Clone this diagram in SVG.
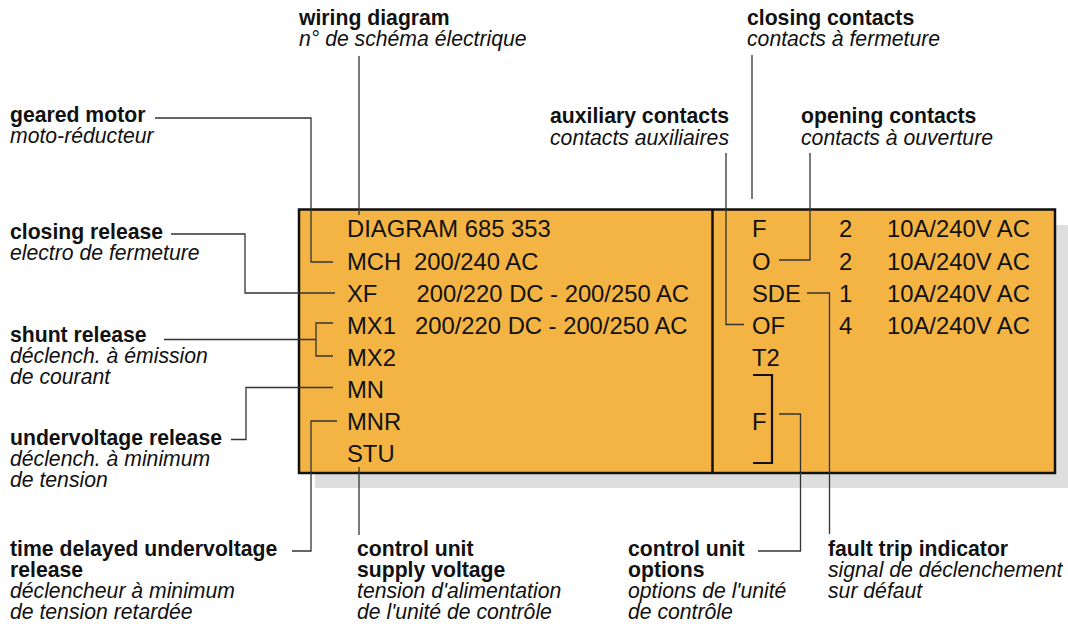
<svg xmlns="http://www.w3.org/2000/svg" width="1068" height="624" viewBox="0 0 1068 624">
<style>
text{font-family:"Liberation Sans",Arial,sans-serif;fill:#111;}
.b{font-size:21.2px;font-weight:bold;}
.i{font-size:21.2px;font-style:italic;}
.t{font-size:23.8px;}
.ln{fill:none;stroke:#333;stroke-width:1.3;}
.br{fill:none;stroke:#111;stroke-width:2.2;}
</style>
<rect width="1068" height="624" fill="#fff"/>
<g id="panel">
<rect x="315" y="225" width="760" height="263" fill="#dedede"/>
<rect x="299" y="209.5" width="756" height="263.5" fill="#F3B443" stroke="#111" stroke-width="2.5"/>
<line x1="712.5" y1="209.5" x2="712.5" y2="473" stroke="#111" stroke-width="2.5"/>
</g>
<g id="box-left">
<text class="t" x="347" y="237">DIAGRAM 685 353</text>
<text class="t" x="347" y="270">MCH</text><text class="t" x="414" y="270">200/240 AC</text>
<text class="t" x="347" y="302">XF</text><text class="t" x="416.5" y="302">200/220 DC - 200/250 AC</text>
<text class="t" x="347" y="334">MX1</text><text class="t" x="415" y="334">200/220 DC - 200/250 AC</text>
<text class="t" x="347" y="366">MX2</text>
<text class="t" x="347" y="398">MN</text>
<text class="t" x="347" y="430">MNR</text>
<text class="t" x="347" y="462">STU</text>
</g>
<g id="box-right">
<text class="t" x="752" y="237">F</text><text class="t" x="839" y="237">2</text><text class="t" x="887" y="237">10A/240V AC</text>
<text class="t" x="752" y="270">O</text><text class="t" x="839" y="270">2</text><text class="t" x="887" y="270">10A/240V AC</text>
<text class="t" x="752" y="302">SDE</text><text class="t" x="839" y="302">1</text><text class="t" x="887" y="302">10A/240V AC</text>
<text class="t" x="752" y="334">OF</text><text class="t" x="839" y="334">4</text><text class="t" x="887" y="334">10A/240V AC</text>
<text class="t" x="752" y="366">T2</text>
<text class="t" x="752" y="430">F</text>
<path class="br" d="M753,375 H772 V463 H753"/>
</g>
<g id="connectors">
<path class="ln" d="M359,56 V215"/>
<path class="ln" d="M155,118 H311 V262 H333"/>
<path class="ln" d="M171,234 H245 V293 H335"/>
<path class="ln" d="M164,339.5 H316"/>
<path class="ln" d="M333,323 H316 V356 H333"/>
<path class="ln" d="M333,387.5 H246 V439.5 H231"/>
<path class="ln" d="M337,421 H311 V551 H292"/>
<path class="ln" d="M359,467 V535"/>
<path class="ln" d="M752,55 V199"/>
<path class="ln" d="M726,153 V324.5 H744"/>
<path class="ln" d="M810,153 V260 H779"/>
<path class="ln" d="M807,293 H829.5 V534"/>
<path class="ln" d="M779,414 H800.5 V551 H758"/>
</g>
<g id="label-wiring"><text class="b" x="299" y="25">wiring diagram</text><text class="i" x="299" y="46">n° de schéma électrique</text></g>
<g id="label-closing-contacts"><text class="b" x="747" y="25">closing contacts</text><text class="i" x="747" y="46">contacts à fermeture</text></g>
<g id="label-aux"><text class="b" x="550" y="123">auxiliary contacts</text><text class="i" x="550" y="145">contacts auxiliaires</text></g>
<g id="label-opening"><text class="b" x="801" y="123">opening contacts</text><text class="i" x="801" y="145">contacts à ouverture</text></g>
<g id="label-geared"><text class="b" x="10" y="122">geared motor</text><text class="i" x="10" y="143">moto-réducteur</text></g>
<g id="label-closing-release"><text class="b" x="10" y="239">closing release</text><text class="i" x="10" y="260">electro de fermeture</text></g>
<g id="label-shunt"><text class="b" x="10" y="342">shunt release</text><text class="i" x="10" y="363">déclench. à émission</text><text class="i" x="10" y="384">de courant</text></g>
<g id="label-under"><text class="b" x="10" y="445">undervoltage release</text><text class="i" x="10" y="466">déclench. à minimum</text><text class="i" x="10" y="487">de tension</text></g>
<g id="label-time"><text class="b" x="10" y="556">time delayed undervoltage</text><text class="b" x="10" y="577">release</text><text class="i" x="10" y="598">déclencheur à minimum</text><text class="i" x="10" y="619">de tension retardée</text></g>
<g id="label-supply"><text class="b" x="357" y="556">control unit</text><text class="b" x="357" y="577">supply voltage</text><text class="i" x="357" y="598">tension d'alimentation</text><text class="i" x="357" y="619">de l'unité de contrôle</text></g>
<g id="label-options"><text class="b" x="628" y="556">control unit</text><text class="b" x="628" y="577">options</text><text class="i" x="628" y="598">options de l'unité</text><text class="i" x="628" y="619">de contrôle</text></g>
<g id="label-fault"><text class="b" x="828" y="556">fault trip indicator</text><text class="i" x="828" y="577">signal de déclenchement</text><text class="i" x="828" y="598">sur défaut</text></g>
</svg>
